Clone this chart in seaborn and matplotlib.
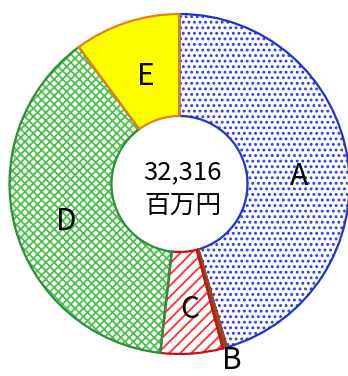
import matplotlib
matplotlib.use("Agg")
import matplotlib.pyplot as plt
import seaborn as sns
import pandas as pd

sns.set_theme(style="white")
plt.rcParams["font.family"] = ["Noto Sans CJK JP", "DejaVu Sans"]
plt.rcParams["hatch.linewidth"] = 1.3

# Breakdown of the total (百万円)
categories = ["A", "B", "C", "D", "E"]
values = [14704, 130, 1907, 12312, 3263]
total_label = "32,316"
unit_label = "百万円"

face_colors = ["white", "#9c4a12", "white", "white", "#ffff00"]
pattern_colors = ["#2a3ee0", "#9c4a12", "#ff3030", "#4cc24c", "#ffff00"]
edge_colors = ["#2233cc", "#9c4a12", "#c81010", "#2e8f3a", "#e8801a"]
hatches = ["...", "", "///", "xxxx", ""]

df = pd.DataFrame({"category": categories, "value": values})

fig = plt.figure(figsize=(3.48, 3.76), dpi=100)
ax = fig.add_axes([0, 0, 1, 1])

ring = dict(radius=1.0, startangle=90, counterclock=False)

# Fills and patterns
fills, _ = ax.pie(df["value"], colors=face_colors,
                  wedgeprops=dict(width=0.6, linewidth=0), **ring)
for w, pc, h in zip(fills, pattern_colors, hatches):
    w.set_edgecolor(pc)
    w.set_hatch(h)
    w.set_linewidth(0)

# Outlines
outlines, _ = ax.pie(df["value"], colors=["none"] * len(categories),
                     wedgeprops=dict(width=0.6, linewidth=1.6, fill=False), **ring)
for w, ec in zip(outlines, edge_colors):
    w.set_edgecolor(ec)

# Category labels
label_pos = {
    "A": (0.703, -0.006),
    "B": (0.309, -1.086),
    "C": (0.062, -0.788),
    "D": (-0.668, -0.271),
    "E": (-0.197, 0.582),
}
for cat in df["category"]:
    x, y = label_pos[cat]
    ax.text(x, y, cat, ha="center", va="baseline", fontsize=21.5, color="black")

# Total in the hole
ax.text(0.018, 0.071, total_label, ha="center", va="center", fontsize=18.5, color="black")
ax.text(0.018, -0.129, unit_label, ha="center", va="center", fontsize=18.5, color="black")

ax.set_aspect("equal")
ax.set_xlim(-179.5 / 170, (348 - 179.5) / 170)
ax.set_ylim((184 - 376) / 170, 184 / 170)
ax.axis("off")

fig.savefig("out.png", dpi=100, facecolor="white")
